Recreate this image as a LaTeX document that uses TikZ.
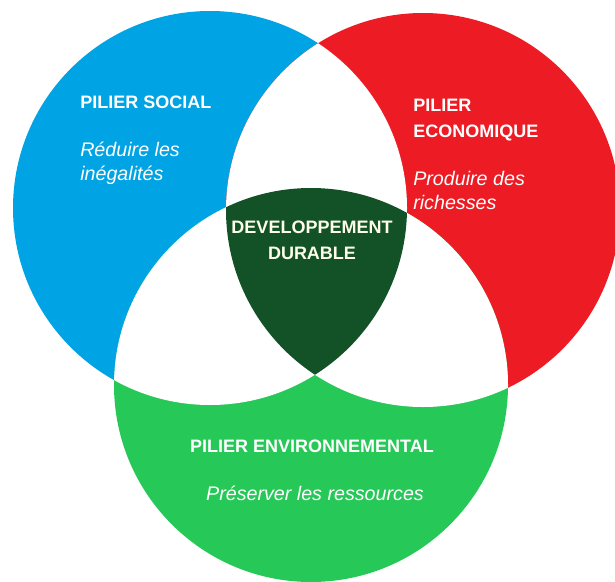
\documentclass[tikz,border=0pt]{standalone}
\usepackage{fontspec}
\setmainfont{Liberation Sans}
\definecolor{bleu_social}{RGB}{0,163,228}
\definecolor{rouge_eco}{RGB}{237,28,36}
\definecolor{vert_env}{RGB}{38,201,87}
\definecolor{vert_fonce}{RGB}{19,82,38}
\begin{document}
\begin{tikzpicture}[
                        x=0.025cm,
                        y=0.025cm,
                        titre/.style={
                            text=white,
                            inner sep=0,
                            font=\fontsize{12.8}{17.8}\selectfont\bfseries
                        },
                        texte/.style={
                            text=white,
                            inner sep=0,
                            font=\fontsize{14}{16.5}\selectfont\itshape
                        }]

                        \useasboundingbox (0,0) rectangle (615,581);
                        \clip (0,0) rectangle (615,581);

                        \fill [bleu_social] (210,373) circle [radius=197];
                        \fill [rouge_eco] (423,371) circle [radius=197];
                        \fill [vert_env] (311,196) circle [radius=197];

                        \begin{scope}
                            \clip (210,373) circle [radius=197];
                            \fill [white] (423,371) circle [radius=197];
                            \fill [white] (311,196) circle [radius=197];
                        \end{scope}
                        \begin{scope}
                            \clip (423,371) circle [radius=197];
                            \fill [white] (311,196) circle [radius=197];
                        \end{scope}
                        \begin{scope}
                            \clip (210,373) circle [radius=197];
                            \clip (423,371) circle [radius=197];
                            \fill [vert_fonce] (311,196) circle [radius=197];
                        \end{scope}

                        \node (social_titre) [titre, anchor=base west] at (80,473) {PILIER SOCIAL};
                        \node (social_texte) [texte, anchor=base west, align=left] at (80,401) {Réduire les\\inégalités};
                        \node (eco_titre) [titre, anchor=base west, align=left] at (413,444) {PILIER\\ECONOMIQUE};
                        \node (eco_texte) [texte, anchor=base west, align=left] at (413,372) {Produire des\\richesses};
                        \node (durable_titre) [titre, anchor=base, align=center, text=white!92!yellow] at (312,322) {DEVELOPPEMENT\\DURABLE};
                        \node (env_titre) [titre, anchor=base] at (312,129) {PILIER ENVIRONNEMENTAL};
                        \node (env_texte) [texte, anchor=base] at (315,81) {Préserver les ressources};

                    \end{tikzpicture}
\end{document}
